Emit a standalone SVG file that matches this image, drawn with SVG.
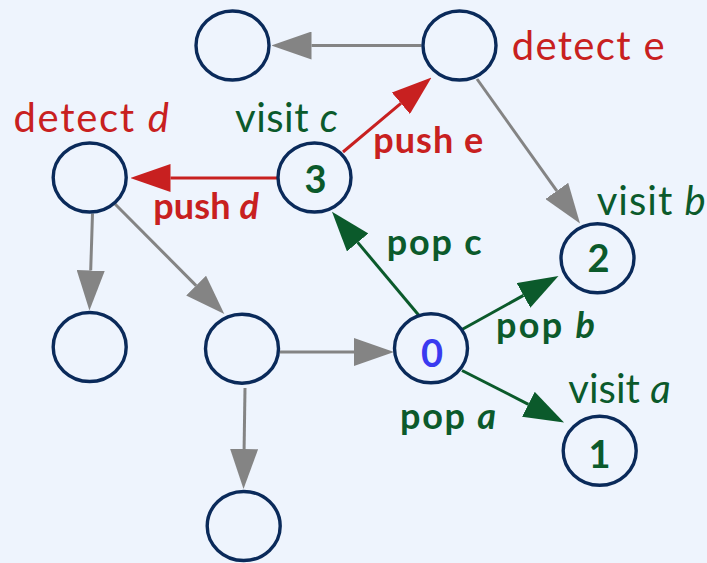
<svg xmlns="http://www.w3.org/2000/svg" width="707" height="563" viewBox="0 0 707 563">
  <style>
    .node ellipse { fill: #EEF4FD; stroke: #0A2A5A; stroke-width: 3.4; }
    .edge { fill: none; stroke-width: 3; }
    .gray { stroke: #848484; }
    .red { stroke: #C82020; }
    .green { stroke: #0B5A2B; }
    text { font-family: Lato, "Open Sans", sans-serif; }
    .lbl { font-size: 40px; }
    .bold { font-size: 36px; font-weight: bold; }
    .num { font-size: 38px; font-weight: bold; text-anchor: middle; }
    .tr { fill: #C82020; }
    .tg { fill: #0B5A2B; }
    .tb { fill: #3A3AF0; }
    .it { font-style: italic; }
  </style>
  <defs>
    <marker id="ahGray" markerUnits="userSpaceOnUse" markerWidth="40" markerHeight="28" viewBox="0 0 40 28" refX="0" refY="14" orient="auto">
      <path d="M0,0 L40,14 L0,28 z" fill="#848484"/>
    </marker>
    <marker id="ahRed" markerUnits="userSpaceOnUse" markerWidth="40" markerHeight="28" viewBox="0 0 40 28" refX="0" refY="14" orient="auto">
      <path d="M0,0 L40,14 L0,28 z" fill="#C82020"/>
    </marker>
    <marker id="ahGreen" markerUnits="userSpaceOnUse" markerWidth="40" markerHeight="28" viewBox="0 0 40 28" refX="0" refY="14" orient="auto">
      <path d="M0,0 L40,14 L0,28 z" fill="#0B5A2B"/>
    </marker>
  </defs>

  <rect x="0" y="0" width="707" height="563" fill="#EEF4FD"/>

  <!-- connectors: each line stops at the arrowhead base -->
  <g id="connectors">
    <path class="edge gray" d="M421.5,45.5 L311.5,45.5" marker-end="url(#ahGray)"/>
    <path class="edge gray" d="M477,79 L556.8,190.9" marker-end="url(#ahGray)"/>
    <path class="edge gray" d="M92.5,213.5 L90.7,270.5" marker-end="url(#ahGray)"/>
    <path class="edge gray" d="M115,204 L196.1,285.6" marker-end="url(#ahGray)"/>
    <path class="edge gray" d="M280,352 L354,352" marker-end="url(#ahGray)"/>
    <path class="edge gray" d="M245,388 L244.1,449" marker-end="url(#ahGray)"/>
    <path class="edge red" d="M277,178 L170.5,178" marker-end="url(#ahRed)"/>
    <path class="edge red" d="M343,152 L400.9,103.3" marker-end="url(#ahRed)"/>
    <path class="edge green" d="M419,315.5 L357.7,242.4" marker-end="url(#ahGreen)"/>
    <path class="edge green" d="M462,329.5 L523.5,295.4" marker-end="url(#ahGreen)"/>
    <path class="edge green" d="M462,370.5 L528.4,404.3" marker-end="url(#ahGreen)"/>
  </g>

  <g id="node-tl" class="node"><ellipse cx="232.5" cy="45.5" rx="36.5" ry="34.5"/></g>
  <g id="node-e" class="node"><ellipse cx="459.5" cy="45.5" rx="36.5" ry="34.5"/></g>
  <g id="node-d" class="node"><ellipse cx="89.7" cy="177.5" rx="36.5" ry="34.5"/></g>
  <g id="node-3" class="node">
    <ellipse cx="314.5" cy="177.5" rx="36.5" ry="34.5"/>
    <text class="num tg" x="315.5" y="193">3</text>
  </g>
  <g id="node-bl" class="node"><ellipse cx="89.7" cy="347" rx="36.5" ry="34.5"/></g>
  <g id="node-mid" class="node"><ellipse cx="242" cy="348.7" rx="36.5" ry="34.5"/></g>
  <g id="node-bot" class="node"><ellipse cx="243.7" cy="526" rx="36.5" ry="34.5"/></g>
  <g id="node-0" class="node">
    <ellipse cx="431" cy="348.3" rx="36.5" ry="34.5"/>
    <text class="num tb" x="432" y="366.5">0</text>
  </g>
  <g id="node-2" class="node">
    <ellipse cx="597.5" cy="258.3" rx="36.5" ry="34.5"/>
    <text class="num tg" x="598.5" y="271.5">2</text>
  </g>
  <g id="node-1" class="node">
    <ellipse cx="599.7" cy="450.8" rx="36.5" ry="34.5"/>
    <text class="num tg" x="599.5" y="468">1</text>
  </g>

  <!-- annotations -->
  <g id="labels">
    <text class="lbl tr" x="511.7" y="60" textLength="153" lengthAdjust="spacing">detect e</text>
    <text class="lbl tr" x="13.5" y="131.7" textLength="155.5" lengthAdjust="spacing">detect <tspan class="it">d</tspan></text>
    <text class="lbl tg" x="235" y="131.7" textLength="103" lengthAdjust="spacing">visit <tspan class="it">c</tspan></text>
    <text class="lbl tg" x="596.7" y="215" textLength="109" lengthAdjust="spacing">visit <tspan class="it">b</tspan></text>
    <text class="lbl tg" x="568.3" y="403.3" textLength="102.4" lengthAdjust="spacing">visit <tspan class="it">a</tspan></text>
    <text class="bold tr" x="153.3" y="218.5" textLength="105.5" lengthAdjust="spacing">push <tspan class="it">d</tspan></text>
    <text class="bold tr" x="373.3" y="153.3" textLength="110" lengthAdjust="spacing">push e</text>
    <text class="bold tg" x="386.7" y="255" textLength="95" lengthAdjust="spacing">pop c</text>
    <text class="bold tg" x="496" y="338.3" textLength="99" lengthAdjust="spacing">pop <tspan class="it">b</tspan></text>
    <text class="bold tg" x="400" y="429" textLength="96" lengthAdjust="spacing">pop <tspan class="it">a</tspan></text>
  </g>
</svg>
